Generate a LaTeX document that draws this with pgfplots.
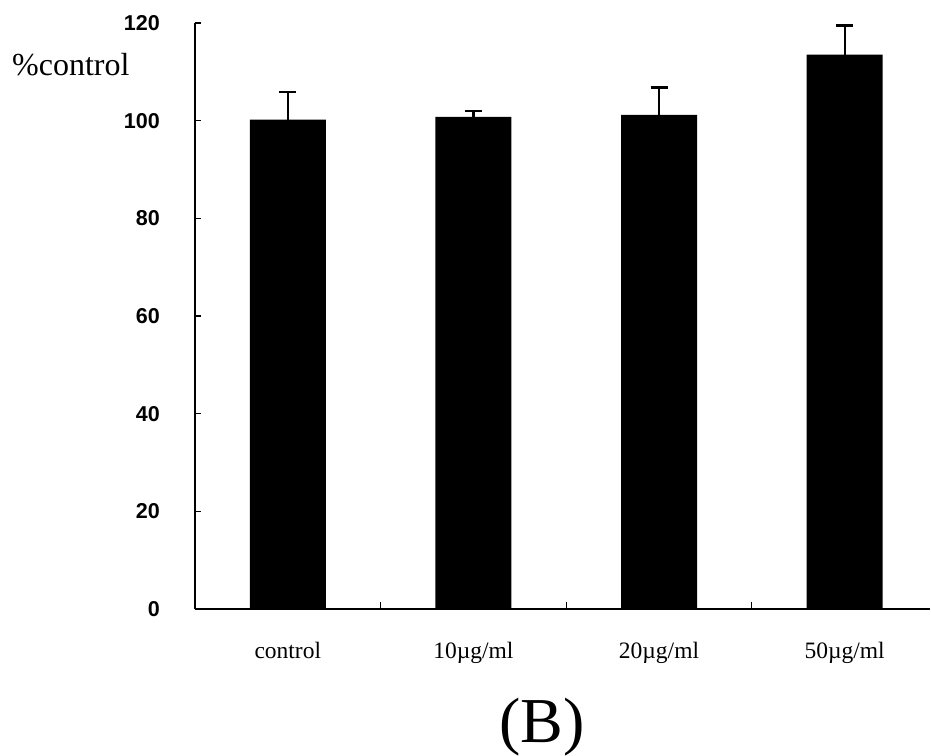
\documentclass[border=0pt]{standalone}
\usepackage{pgfplots}
\pgfplotsset{compat=1.18}
\usepackage{fontspec}
\setmainfont{Liberation Serif}
\newfontfamily\arialfont{Liberation Sans}
\begin{document}
\begin{tikzpicture}
\begin{axis}[
  scale only axis,
  width=735bp, height=586bp,
  xmin=-0.5, xmax=3.46,
  ymin=0, ymax=120,
  axis x line=bottom, axis y line=left,
  axis line style={-, line width=1.5bp, black},
  tick align=inside,
  ytick={0,20,40,60,80,100,120},
  /pgf/number format/assume math mode=true,
  yticklabel style={font=\arialfont\bfseries\fontsize{21.5bp}{25bp}\selectfont, inner sep=0pt, xshift=-35bp},
  ytick style={line width=1.2bp, black, /pgfplots/major tick length=6bp},
  xtick={0.5,1.5,2.5},
  xticklabels={},
  xtick style={line width=1.2bp, black, /pgfplots/major tick length=7bp},
  extra x ticks={0,1,2,3},
  extra x tick labels={control,10µg/ml,20µg/ml,50µg/ml},
  extra x tick style={
    major tick length=0pt,
    xticklabel style={font=\fontsize{23.5bp}{28bp}\selectfont, anchor=base, inner sep=0pt, yshift=-49bp}
  },
  ylabel={\%control},
  ylabel style={rotate=-90, anchor=base west, inner sep=0pt, at={(axis description cs:-0.249,0.911)}, font=\fontsize{32bp}{36bp}\selectfont},
  xlabel={(B)},
  xlabel style={anchor=base, inner sep=0pt, at={(axis description cs:0.472,-0.227)}, font=\fontsize{64bp}{70bp}\selectfont},
  clip=false,
]
\addplot[ybar, bar width=76bp, fill=black, draw=none,
  error bars/.cd, y dir=plus, y explicit,
  error bar style={line width=2.2bp, black},
  error mark options={rotate=90, mark size=8.5bp, line width=2.2bp, black}]
  table[x=x, y=y, y error=e] {
x y e
0 100.2 5.6
1 100.8 1.2
2 101.2 5.6
3 113.5 6.0
};
\end{axis}
\path (-195bp,-144bp) rectangle (736bp,609bp);
\end{tikzpicture}
\end{document}
